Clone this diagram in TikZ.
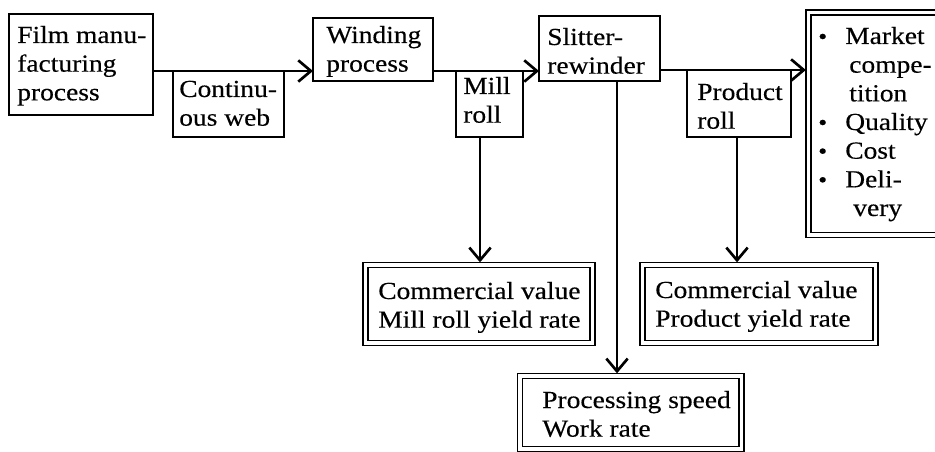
\documentclass[tikz,border=0pt]{standalone}
\usepackage{fontspec}
\setmainfont{Liberation Serif}[FakeStretch=1.12,FakeBold=0.3]
\usetikzlibrary{arrows.meta,fit}
% left-aligned block of lines whose base anchor is the first baseline
\newcommand\txtlines[1]{\begin{tabular}[t]{@{}l@{}}#1\end{tabular}}
% list bullet
\newcommand\smbul{{\fontsize{17}{17}\selectfont\textbullet}}
\begin{document}
\begin{tikzpicture}[x=0.75pt,y=-0.75pt,
  box/.style={draw, line width=1.4pt, inner sep=0pt, outer sep=0pt},
  dbox/.style={draw, double, line width=1.1pt, double distance=2.6pt, inner sep=0pt, outer sep=0pt},
  txt/.style={anchor=base west, inner sep=0pt, font=\fontsize{18.4}{21.5}\selectfont},
  arr/.style={line width=0.8pt, -{Straight Barb[length=9.5pt,width=16pt,line width=2pt]}},
  darr/.style={arr, shorten >=2pt}]
\useasboundingbox (0,0) rectangle (935,452);
\clip (0,0) rectangle (935,452);

% process boxes
\node[box, fit={(9,14) (153,115)}]    (film) {};
\node[box, fit={(173,71) (284,137)}]  (cont) {};
\node[box, fit={(313,18) (433,81)}]   (wind) {};
\node[box, fit={(456,71) (523,137)}]  (mill) {};
\node[box, fit={(539,16) (660,81)}]   (slit) {};
\node[box, fit={(687,70) (791,137)}]  (prod) {};

% evaluation boxes (double frame)
\node[dbox, fit={(808.5,12.5) (965,235)}]    (market) {};
\node[dbox, fit={(365.5,265) (592.5,343)}]   (commA) {};
\node[dbox, fit={(642.5,265) (875.5,343)}]   (commB) {};
\node[dbox, fit={(520,376) (741.5,449)}]     (proc) {};

% texts
\node[txt] (tfilm) at (17,43)  {\txtlines{Film manu-\\facturing\\process}};
\node[txt] (tcont) at (179,97) {\txtlines{Continu-\\ous web}};
\node[txt] (twind) at (326,43) {\txtlines{Winding\\process}};
\node[txt] (tmill) at (463,94) {\txtlines{Mill\\roll}};
\node[txt] (tslit) at (547,45) {\txtlines{Slitter-\\rewinder}};
\node[txt] (tprod) at (697,100) {\txtlines{Product\\roll}};
\node[txt] (tbul)  at (818,44) {\txtlines{\smbul\\ \\ \\ \smbul\\ \smbul\\ \smbul}};
\node[txt] (tmark) at (845,44) {\txtlines{Market\\\hspace{3pt}compe-\\\hspace{3pt}tition\\Quality\\Cost\\Deli-\\\hspace{6pt}very}};
\node[txt] (tcA) at (378,299) {\txtlines{Commercial value\\Mill roll yield rate}};
\node[txt] (tcB) at (655,298) {\txtlines{Commercial value\\Product yield rate}};
\node[txt] (tpr) at (542,408) {\txtlines{Processing speed\\Work rate}};

% main flow
\draw[arr] (film.east |- cont.north) -- (wind.west |- cont.north);
\draw[arr] (wind.east |- mill.north) -- (slit.west |- mill.north);
\draw[darr] (slit.east |- prod.north) -- (market.west |- prod.north);

% evaluation branches
\coordinate (mx) at (480,0);
\coordinate (sx) at (617,0);
\coordinate (px) at (737,0);
\draw[darr] (mx |- mill.south) -- (mx |- commA.north);
\draw[darr] (sx |- slit.south) -- (sx |- proc.north);
\draw[darr] (px |- prod.south) -- (px |- commB.north);
\end{tikzpicture}
\end{document}
